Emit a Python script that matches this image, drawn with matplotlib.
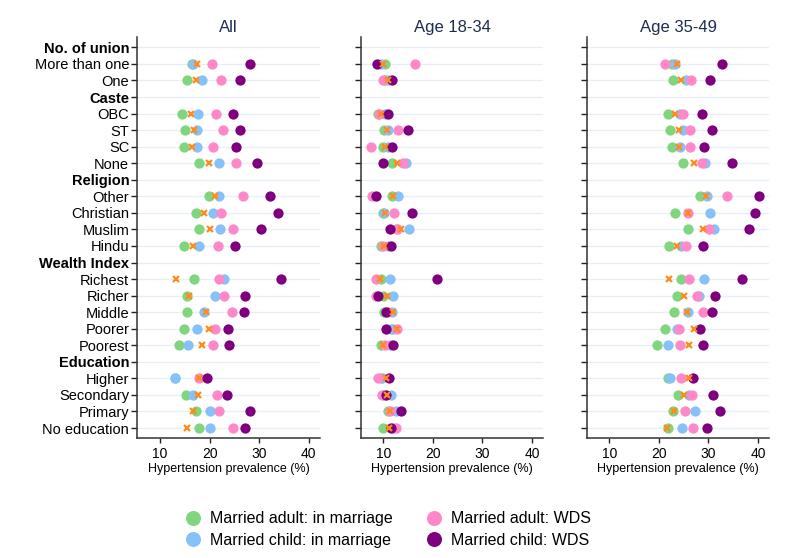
import numpy as np
import matplotlib
matplotlib.use("Agg")
import matplotlib.pyplot as plt
from matplotlib.lines import Line2D

plt.rcParams['font.family'] = ['Liberation Sans', 'DejaVu Sans']

# Row labels, top to bottom (True marks a group header row)
rows = [
    ("No. of union", True), ("More than one", False), ("One", False),
    ("Caste", True), ("OBC", False), ("ST", False), ("SC", False), ("None", False),
    ("Religion", True), ("Other", False), ("Christian", False), ("Muslim", False), ("Hindu", False),
    ("Wealth Index", True), ("Richest", False), ("Richer", False), ("Middle", False),
    ("Poorer", False), ("Poorest", False),
    ("Education", True), ("Higher", False), ("Secondary", False), ("Primary", False),
    ("No education", False),
]

panels = ["All", "Age 18-34", "Age 35-49"]

# Values for the 19 category rows (in order of non-header rows above)
adult_marr = {
    "All":       [16.5, 15.5, 14.4, 15.1, 14.8, 17.8, 19.9, 17.2, 17.8, 14.9, 16.8, 15.5, 15.5, 14.9, 13.8, 13.0, 15.2, 17.2, 17.8],
    "Age 18-34": [10.3, 10.3, 8.8, 10.1, 9.9, 11.8, 11.8, 10.0, 12.7, 9.5, 9.5, 9.9, 10.2, 11.5, 9.5, 9.6, 10.2, 10.9, 10.0],
    "Age 35-49": [22.6, 22.9, 21.9, 22.3, 22.6, 24.8, 28.3, 23.2, 25.9, 22.1, 24.5, 23.7, 23.1, 21.3, 19.7, 21.8, 23.9, 22.9, 21.9],
}
child_marr = {
    "All":       [16.6, 18.5, 17.6, 17.4, 17.5, 22.0, 22.0, 20.6, 22.2, 17.8, 22.9, 21.0, 18.9, 17.4, 15.7, 13.1, 16.6, 20.1, 20.0],
    "Age 18-34": [9.5, 10.9, 10.3, 10.9, 10.9, 14.5, 12.9, 10.1, 15.1, 10.9, 11.3, 11.9, 11.7, 12.0, 11.3, 9.7, 11.5, 12.5, 12.0],
    "Age 35-49": [23.2, 25.5, 24.3, 24.9, 24.3, 29.3, 29.8, 30.3, 31.1, 24.5, 29.1, 28.1, 25.9, 23.6, 21.9, 22.3, 26.1, 27.3, 24.6],
}
adult_wds = {
    "All":       [20.4, 22.3, 21.2, 22.7, 20.7, 25.4, 26.8, 22.4, 24.8, 21.8, 21.9, 23.0, 24.5, 21.0, 20.7, 17.9, 21.4, 22.0, 24.8],
    "Age 18-34": [16.4, 10.0, 9.2, 13.0, 7.5, 13.9, 7.7, 12.2, 12.7, 10.0, 8.4, 8.5, 11.0, 12.7, 10.4, 8.9, 9.7, 11.3, 12.5],
    "Age 35-49": [21.3, 26.5, 24.9, 26.3, 26.3, 28.8, 33.8, 25.8, 30.2, 25.4, 26.0, 27.6, 29.0, 24.1, 24.3, 24.5, 26.7, 25.3, 26.8],
}
child_wds = {
    "All":       [28.1, 26.2, 24.7, 26.2, 25.4, 29.5, 32.2, 33.9, 30.3, 25.1, 34.4, 27.2, 27.0, 23.7, 23.9, 19.4, 23.6, 28.1, 27.1],
    "Age 18-34": [8.7, 11.7, 10.9, 14.9, 11.7, 9.9, 8.5, 15.7, 11.3, 11.5, 20.8, 9.0, 10.6, 10.6, 11.9, 11.1, 10.5, 13.5, 11.5],
    "Age 35-49": [32.7, 30.4, 28.8, 30.7, 29.2, 34.8, 40.2, 39.5, 38.2, 28.9, 36.7, 31.3, 30.8, 28.3, 28.9, 26.9, 30.9, 32.3, 29.7],
}
overall = {
    "All":       [17.4, 17.2, 16.2, 16.8, 16.4, 19.8, 21.1, 18.9, 20.1, 16.6, 13.2, 15.9, 19.3, 19.8, 18.5, 17.9, 17.6, 16.6, 15.4],
    "Age 18-34": [10.0, 10.9, 9.5, 10.7, 10.4, 12.8, 12.0, 10.3, 13.5, 10.1, 9.3, 10.7, 11.9, 12.8, 10.0, 10.5, 10.8, 11.3, 11.2],
    "Age 35-49": [23.6, 24.5, 23.3, 24.1, 24.0, 27.0, 29.5, 25.9, 28.9, 23.6, 22.0, 25.1, 25.6, 27.0, 26.1, 26.0, 25.1, 23.1, 21.7],
}

series = [
    ("Married adult: in marriage", adult_marr, "#80d67f"),
    ("Married child: in marriage", child_marr, "#86c1f9"),
    ("Married adult: WDS", adult_wds, "#ff88c8"),
    ("Married child: WDS", child_wds, "#7f007f"),
]
xticks = [10, 20, 30, 40]

labels = [r[0] for r in rows]
is_header = [r[1] for r in rows]
ypos = [i for i, h in enumerate(is_header) if not h]
nrows = len(rows)

fig = plt.figure(figsize=(7.87, 5.58), dpi=100)
lefts = [0.1745, 0.4583, 0.7455]
w = 0.232
bottom = 0.2145
height = 0.719

for k, (pname, left) in enumerate(zip(panels, lefts)):
    ax = fig.add_axes([left, bottom, w, height])
    for y in range(nrows):
        ax.axhline(y, color="#e7eef4", lw=0.9, zorder=0)
    for lab, data, col in series:
        ax.plot(data[pname], ypos, 'o', color=col, markersize=7.4,
                markeredgewidth=0, zorder=2, linestyle='none')
    ax.plot(overall[pname], ypos, 'x', color="#ff8c1a", markersize=3.8,
            markeredgewidth=1.6, zorder=3, linestyle='none')
    ax.set_xlim(5.4, 42.3)
    ax.set_ylim(nrows - 1 + 0.62, -0.62)
    ax.set_xticks(xticks)
    ax.set_xticklabels([str(t) for t in xticks], fontsize=10)
    ax.set_yticks(range(nrows))
    if k == 0:
        ax.set_yticklabels(labels, fontsize=10.5)
        for t, h in zip(ax.get_yticklabels(), is_header):
            if h:
                t.set_fontweight('bold')
    else:
        ax.set_yticklabels([])
    for s in ["top", "right"]:
        ax.spines[s].set_visible(False)
    for s in ["left", "bottom"]:
        ax.spines[s].set_color("#333333")
        ax.spines[s].set_linewidth(1.1)
    ax.tick_params(axis='y', length=4.2, width=1.0, pad=1.7, color="#222222")
    ax.tick_params(axis='x', length=3.5, width=1.0, pad=3, color="#222222")
    ax.set_xlabel("Hypertension prevalence (%)", fontsize=9, labelpad=1)
    ax.set_title(pname, fontsize=12, color="#1f2d4d", pad=3.5)
    ax.set_facecolor("white")

handles = [Line2D([], [], marker='o', linestyle='none', color=c,
                  markersize=10.8, markeredgewidth=0) for _, _, c in series]
fig.legend(handles, [s[0] for s in series], ncol=2, loc='center',
           bbox_to_anchor=(0.493, 0.051), frameon=False, fontsize=11.5,
           handlelength=1.0, handletextpad=0.55, columnspacing=2.1,
           labelspacing=0.4)

fig.savefig("out.png", dpi=100, facecolor="white")
